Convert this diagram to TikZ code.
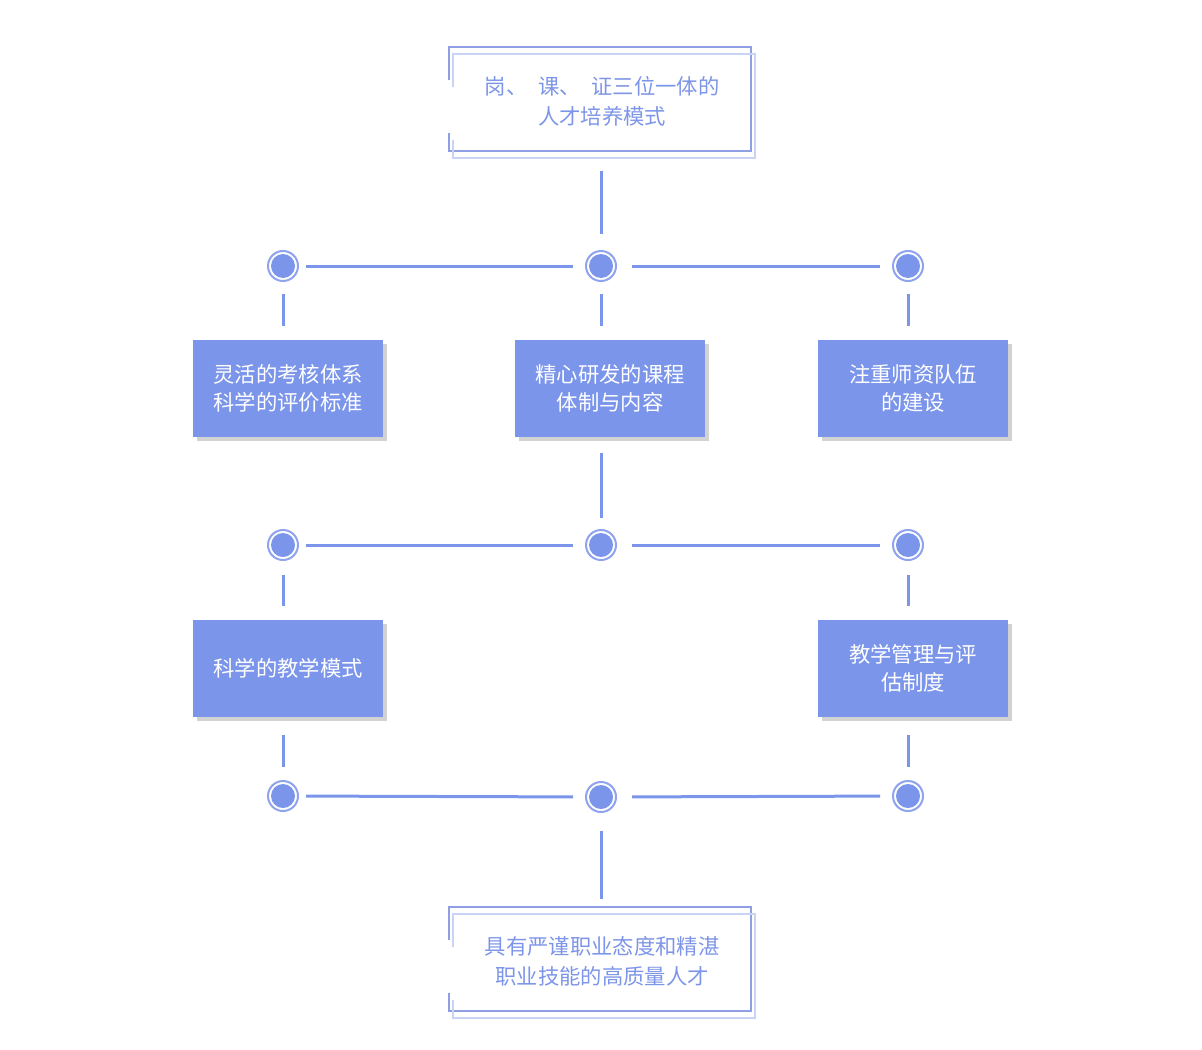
\documentclass[tikz,border=0pt]{standalone}
\usepackage{fontspec}
\setmainfont{Noto Sans CJK SC}
\usetikzlibrary{shadows}
\definecolor{mainblue}{HTML}{7B95EA}
\definecolor{ringblue}{HTML}{8FA3EF}
\definecolor{framedark}{HTML}{8E9FE3}
\definecolor{framelight}{HTML}{C9D3F5}
\definecolor{textblue}{HTML}{7D95E8}
\definecolor{shadowgray}{HTML}{D2D2D2}

\begin{document}
\begin{tikzpicture}[x=0.75pt,y=-0.75pt,
  font=\fontsize{16}{21}\selectfont,
  topic/.style={fill=mainblue,text=white,minimum width=142.5pt,minimum height=72.75pt,
    align=center,inner sep=0pt,
    drop shadow={shadow xshift=3pt,shadow yshift=-3pt,fill=shadowgray,opacity=1}},
  goal/.style={text=textblue,minimum width=226.5pt,minimum height=78pt,align=center,
    font=\fontsize{16}{22.5}\selectfont},
  dot/.style={circle,draw=ringblue,line width=1.5pt,fill=white,minimum size=22.5pt,inner sep=0pt,
    path picture={\fill[mainblue] (path picture bounding box.center) circle (9pt);}},
  link/.style={draw=mainblue,line width=2.25pt}]
\useasboundingbox (0,0) rectangle (1202,1049);

% top frame
\begin{scope}[shift={(449,47)}]
\draw[framedark,line width=0.8pt] (0,33) -- (0,0) -- (302,0) -- (302,104) -- (0,104) -- (0,86);
\draw[framelight,line width=0.8pt] (4,40) -- (4,7) -- (306,7) -- (306,111) -- (4,111) -- (4,93);
\node[goal] (t) at (153,54) {岗、\hspace{0.5em}课、\hspace{0.5em}证三位一体的\\人才培养模式};
\end{scope}

% bottom frame
\begin{scope}[shift={(449,907)}]
\draw[framedark,line width=0.8pt] (0,33) -- (0,0) -- (302,0) -- (302,104) -- (0,104) -- (0,86);
\draw[framelight,line width=0.8pt] (4,40) -- (4,7) -- (306,7) -- (306,111) -- (4,111) -- (4,93);
\node[goal] (g) at (153,54) {具有严谨职业态度和精湛\\职业技能的高质量人才};
\end{scope}

% dots
\node[dot] (c11) at (283,266) {};
\node[dot] (c12) at (601,266) {};
\node[dot] (c13) at (908,266) {};
\node[dot] (c21) at (283,545) {};
\node[dot] (c22) at (601,545) {};
\node[dot] (c23) at (908,545) {};
\node[dot] (c31) at (283,796) {};
\node[dot] (c32) at (601,797) {};
\node[dot] (c33) at (908,796) {};

% boxes
\node[topic] (b1) at (288,388.5) {灵活的考核体系\\科学的评价标准};
\node[topic] (b2) at (610,388.5) {精心研发的课程\\体制与内容};
\node[topic] (b3) at (913,388.5) {注重师资队伍\\的建设};
\node[topic] (b4) at (288,668.5) {科学的教学模式};
\node[topic] (b5) at (913,668.5) {教学管理与评\\估制度};

% row 1
\draw[link,shorten <=13.5pt,shorten >=12pt] (t.south -| c12) -- (c12);
\draw[link,shorten <=5.25pt,shorten >=9pt] (c11) -- (c12);
\draw[link,shorten <=11.25pt,shorten >=9pt] (c12) -- (c13);
\draw[link,shorten <=9pt,shorten >=10.5pt] (c11) -- (c11 |- b1.north);
\draw[link,shorten <=9pt,shorten >=10.5pt] (c12) -- (c12 |- b2.north);
\draw[link,shorten <=9pt,shorten >=10.5pt] (c13) -- (c13 |- b3.north);

% row 2
\draw[link,shorten <=12pt,shorten >=8.25pt] (c22 |- b2.south) -- (c22);
\draw[link,shorten <=5.25pt,shorten >=9pt] (c21) -- (c22);
\draw[link,shorten <=11.25pt,shorten >=9pt] (c22) -- (c23);
\draw[link,shorten <=10.5pt,shorten >=10.5pt] (c21) -- (c21 |- b4.north);
\draw[link,shorten <=10.5pt,shorten >=10.5pt] (c23) -- (c23 |- b5.north);

% row 3
\draw[link,shorten <=13.5pt,shorten >=9.75pt] (c31 |- b4.south) -- (c31);
\draw[link,shorten <=13.5pt,shorten >=9.75pt] (c33 |- b5.south) -- (c33);
\draw[link,shorten <=5.25pt,shorten >=9pt] (c31) -- (c32);
\draw[link,shorten <=11.25pt,shorten >=9pt] (c32) -- (c33);
\draw[link,shorten <=13.5pt,shorten >=7.5pt] (c32) -- (c32 |- g.north);
\end{tikzpicture}
\end{document}
